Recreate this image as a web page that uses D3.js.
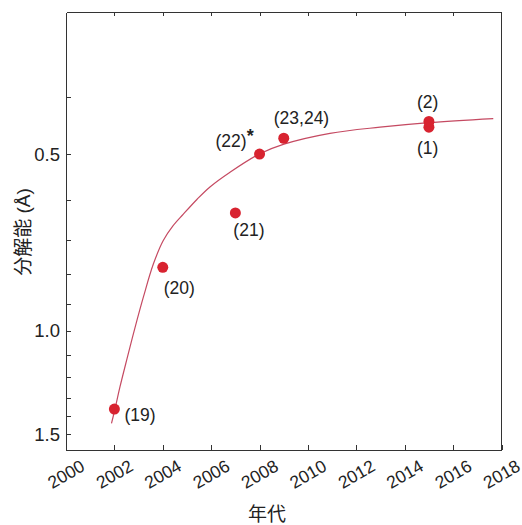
<!DOCTYPE html>
<html lang="ja">

<head>
  <meta charset="utf-8">
  <title>分解能の推移</title>
  <script src="https://d3js.org/d3.v7.min.js"></script>
  <style>
    body {
      margin: 0;
      background: white;
    }

    #chart text {
      font-family: 'Liberation Sans', Arial, Helvetica, 'Noto Sans CJK JP', sans-serif;
      fill: #222;
    }

    .frame line,
    .frame path {
      fill: none;
      stroke: #333;
      shape-rendering: crispEdges;
    }
  </style>
</head>

<body>
  <div id="chart"></div>
</body>

<script>

  // measured points
  var years = [2002, 2004, 2007, 2008, 2009, 2015, 2015];
  var resolution = [1.36, 0.78, 0.63, 0.50, 0.47, 0.45, 0.44];
  var labels = ['(19)', '(20)', '(21)', '(22)*', '(23,24)', '(1)', '(2)'];

  // fitted curve
  var fitYears = [2001.88, 2002.03, 2002.23, 2002.52, 2002.85, 2003.20, 2003.61, 2004.02,
    2004.42, 2004.85, 2005.42, 2005.95, 2006.78, 2007.99, 2009.01, 2010.91, 2012.98,
    2015.00, 2017.66];
  var fitRes = [1.439, 1.357, 1.247, 1.117, 0.989, 0.876, 0.770, 0.702,
    0.663, 0.633, 0.597, 0.569, 0.537, 0.500, 0.481, 0.461, 0.450,
    0.442, 0.435];

  // axes
  var xTicks = [2000, 2002, 2004, 2006, 2008, 2010, 2012, 2014, 2016, 2018];
  var yMajor = [0.5, 1.0, 1.5];
  var yMinor = [0.4, 0.6, 0.7, 0.8, 0.9, 1.1, 1.2, 1.3, 1.4];

  // label placement (pixels from the dot)
  var labelOffsets = [[10, 6], [1, 20], [-2, 17], [-44, -13], [-10, -21], [-12, 21], [-12, -20]];

  var W = 522, H = 525;
  var pL = 66, pR = 501.5, pT = 12, pB = 450;

  var xS = d3.scaleLinear().domain([2000, 2018]).range([pL, pR]);
  var yS = d3.scaleLog().domain([0.2864, 1.597]).range([pT, pB]);

  var svg = d3.select('#chart')
    .append('svg')
    .attr('width', W)
    .attr('height', H);

  // fitted line
  var fit = fitYears.map(function (t, i) { return [t, fitRes[i]]; });
  svg.append('path')
    .datum(fit)
    .attr('fill', 'none')
    .attr('stroke', '#c54a62')
    .attr('stroke-width', 1.2)
    .attr('d', d3.line()
      .x(d => xS(d[0]))
      .y(d => yS(d[1]))
      .curve(d3.curveCatmullRom.alpha(0.5)));

  // frame + axes
  var frame = svg.append('g').attr('class', 'frame');

  frame.append('g')
    .attr('transform', 'translate(0,' + pB + ')')
    .call(d3.axisBottom(xS).tickValues(xTicks).tickSizeInner(-5).tickSizeOuter(0).tickFormat(''))
    .call(g => g.selectAll('path').attr('stroke-width', 1.6));

  frame.append('g')
    .attr('transform', 'translate(0,' + pT + ')')
    .call(d3.axisTop(xS).tickValues(xTicks.slice(1, -1)).tickSizeInner(-4).tickSizeOuter(0).tickFormat(''))
    .call(g => g.selectAll('path').attr('stroke-width', 1.6));

  frame.append('g')
    .attr('transform', 'translate(' + pL + ',0)')
    .call(d3.axisLeft(yS).tickValues(yMajor.concat(yMinor)).tickSizeInner(-5).tickSizeOuter(0).tickFormat(''))
    .call(g => g.selectAll('path').attr('stroke-width', 1.6));

  frame.append('line')
    .attr('x1', pR).attr('x2', pR)
    .attr('y1', pT).attr('y2', pB)
    .attr('stroke-width', 1.6);

  // y tick labels
  svg.selectAll('.ylab')
    .data(yMajor)
    .enter()
    .append('text')
    .attr('class', 'ylab')
    .attr('x', pL - 6)
    .attr('y', d => yS(d))
    .attr('dy', '0.36em')
    .attr('text-anchor', 'end')
    .style('font-size', '18.5px')
    .text(d => d3.format('.1f')(d));

  // x tick labels
  svg.selectAll('.xlab')
    .data(xTicks)
    .enter()
    .append('text')
    .attr('class', 'xlab')
    .attr('transform', d => 'translate(' + xS(d) + ',474) rotate(-30)')
    .attr('dy', '0.36em')
    .attr('text-anchor', 'middle')
    .style('font-size', '17.5px')
    .text(d => d);

  // axis titles
  svg.append('text')
    .attr('transform', 'translate(23,232) rotate(-90)')
    .attr('dy', '0.36em')
    .attr('text-anchor', 'middle')
    .style('font-size', '19px')
    .text('分解能 (Å)');

  svg.append('text')
    .attr('x', 267)
    .attr('y', 514)
    .attr('dy', '0.36em')
    .attr('text-anchor', 'middle')
    .style('font-size', '19px')
    .style('font-family', "'Noto Sans CJK JP', sans-serif")
    .text('年代');

  // dots
  svg.selectAll('circle')
    .data(years)
    .enter()
    .append('circle')
    .attr('cx', d => xS(d))
    .attr('cy', (d, i) => yS(resolution[i]))
    .attr('r', 5.5)
    .attr('fill', '#d82330');

  // dot labels
  var lab = svg.selectAll('.ptlab')
    .data(labels)
    .enter()
    .append('text')
    .attr('class', 'ptlab')
    .attr('x', (d, i) => xS(years[i]) + labelOffsets[i][0])
    .attr('y', (d, i) => yS(resolution[i]) + labelOffsets[i][1])
    .attr('dy', '0.36em')
    .style('font-size', '17.5px');

  lab.append('tspan').text(d => d.replace('*', ''));
  lab.filter(d => d.indexOf('*') >= 0)
    .append('tspan')
    .attr('dy', '-0.3em')
    .style('font-size', '18px')
    .style('font-weight', 'bold')
    .text('*');

</script>

</html>
